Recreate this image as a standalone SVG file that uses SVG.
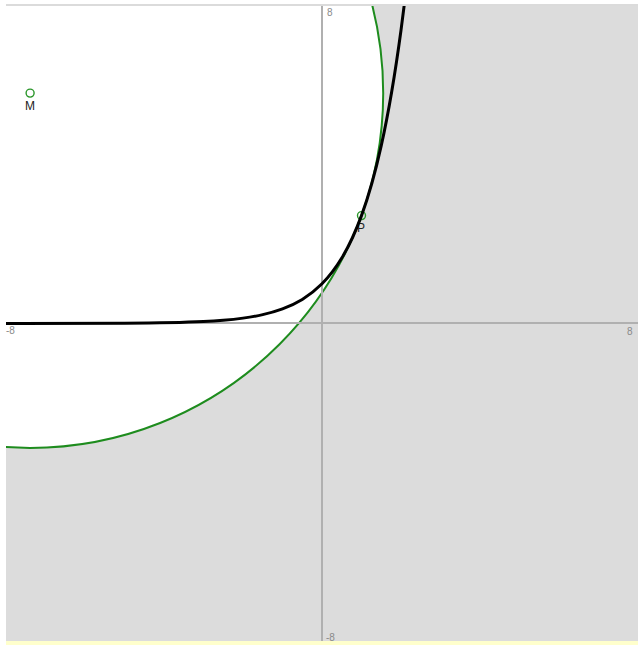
<svg xmlns="http://www.w3.org/2000/svg" width="640" height="646" viewBox="0 0 640 646">
<style>
.tick{font-family:"Liberation Sans",Arial,sans-serif;font-size:10px;fill:#8a8a8a}
.lbl{font-family:"Liberation Sans",Arial,sans-serif;font-size:12px;fill:#222;text-anchor:middle}
.axis{stroke:#b0b0b0;stroke-width:2;fill:none}
.pt{fill:none;stroke:#2a962a;stroke-width:1.4}
</style>
<defs>
<clipPath id="plot"><rect x="6" y="6" width="632" height="635"/></clipPath>
</defs>
<rect width="640" height="646" fill="#fff"/>
<rect x="6" y="641" width="632" height="4" fill="#ffffcc"/>
<line x1="6" y1="5" x2="638" y2="5" stroke="#cfcfcf" stroke-width="1.5"/>
<g clip-path="url(#plot)">
<rect id="region" x="6" y="6" width="632" height="635" fill="#dcdcdc"/>
<ellipse id="circle" cx="30.1" cy="93.1" rx="353.1" ry="354.8" fill="#fff" stroke="#1e8c1e" stroke-width="2"/>
<g id="axes">
<line class="axis" x1="6" y1="323" x2="638" y2="323"/>
<line class="axis" x1="322" y1="6" x2="322" y2="641"/>
</g>
</g>
<g id="M">
<circle class="pt" cx="30.1" cy="93.1" r="4"/>
<text class="lbl" x="30" y="110">M</text>
</g>
<g id="P">
<circle class="pt" cx="361.5" cy="215.6" r="4"/>
<text class="lbl" x="361" y="232">P</text>
</g>
<g id="connectors" clip-path="url(#plot)">
<path id="curve" fill="none" stroke="#000" stroke-width="3" d="M 6 323.487 C 45.5 323.474 85 323.5 124.5 323.233 C 150.83 323.055 177.17 322.841 203.5 321.524 C 210.08 321.195 216.67 320.785 223.25 320.242 C 229.83 319.699 236.42 319.023 243 318.128 C 249.58 317.233 256.17 316.12 262.75 314.644 C 269.33 313.168 275.92 311.333 282.5 308.899 C 289.08 306.466 295.67 303.439 302.25 299.427 C 308.83 295.415 315.42 290.425 322 283.81 C 328.58 277.195 335.17 268.968 341.75 258.062 C 348.33 247.156 354.92 233.592 361.5 215.611 C 368.08 197.63 374.67 175.268 381.25 145.622 C 387.83 115.976 394.42 79.106 401 30.228 C 402.32 20.452 403.63 10.189 404.95 -0.615"/>
</g>
<g id="ticks">
<text class="tick" x="327" y="16">8</text>
<text class="tick" x="6" y="334">-8</text>
<text class="tick" x="627" y="335">8</text>
<text class="tick" x="326" y="641">-8</text>
</g>
</svg>
